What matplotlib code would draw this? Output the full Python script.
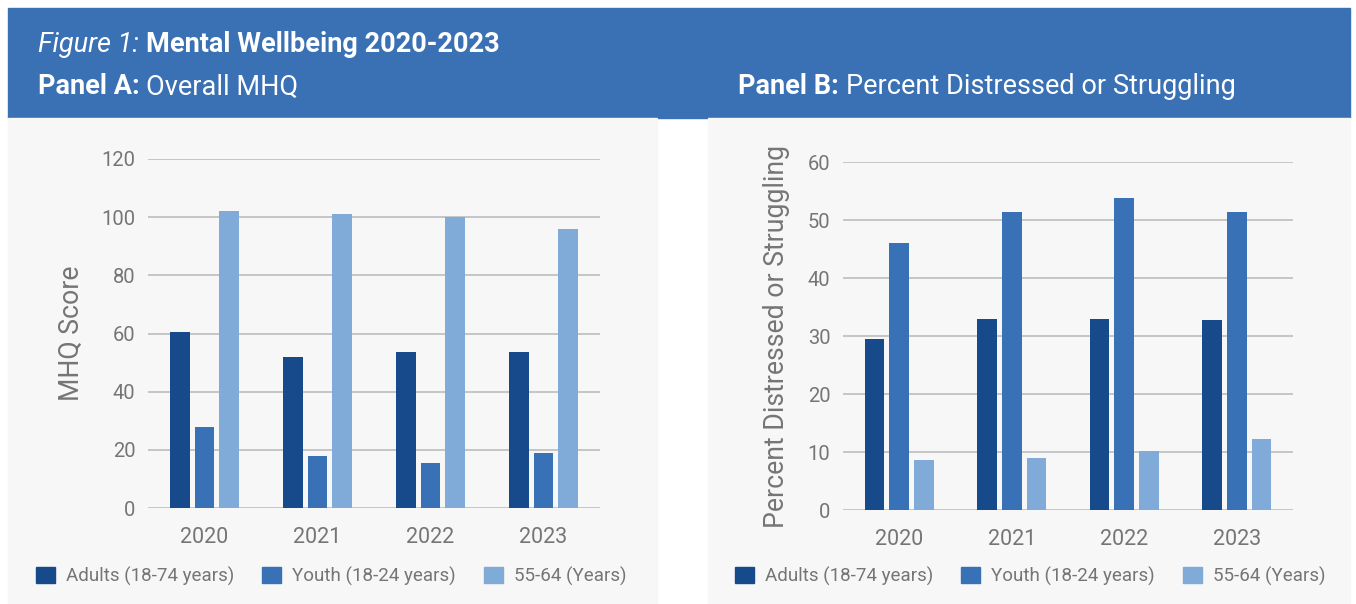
#!/usr/bin/env python3
"""Mental wellbeing 2020-2023: overall MHQ and percent distressed, by group."""

import matplotlib.pyplot as plt
import numpy as np
from matplotlib.patches import Rectangle, Patch

plt.rcParams['font.family'] = ['Roboto', 'DejaVu Sans']

years = ['2020', '2021', '2022', '2023']
groups = ['Adults (18-74 years)', 'Youth (18-24 years)', '55-64 (Years)']
colors = ['#174a8b', '#3871b5', '#80aad8']

mhq_adults = [60.5, 51.9, 53.6, 53.6]
mhq_youth = [27.7, 18.0, 15.6, 19.0]
mhq_older = [102.0, 101.0, 100.2, 95.8]

pct_adults = [29.4, 33.0, 33.0, 32.7]
pct_youth = [46.0, 51.4, 53.8, 51.4]
pct_older = [8.7, 9.0, 10.2, 12.3]

W, H = 1356, 604
TEXT_GREY = '#757575'
HEADER_BLUE = '#3a70b4'
PANEL_BG = '#f7f7f7'


def px_box(x0, y0, x1, y1):
    # pixel box (top-left origin) -> figure fraction [left, bottom, width, height]
    return [x0 / W, 1 - y1 / H, (x1 - x0) / W, (y1 - y0) / H]


def draw_panel(fig, box, series, ymax, step, ylabel, ylabel_x, legend_x):
    ax = fig.add_axes(px_box(*box))
    ax.set_facecolor(PANEL_BG)
    x = np.arange(len(years))
    width = 0.175
    offsets = [-0.22, 0.0, 0.22]
    for vals, off, col in zip(series, offsets, colors):
        ax.bar(x + off, vals, width, color=col, zorder=3)
    ax.set_xlim(-0.5, len(years) - 0.5)
    ax.set_ylim(0, ymax)
    ax.set_yticks(np.arange(0, ymax + 1, step))
    ax.set_xticks(x)
    ax.set_xticklabels(years)
    ax.grid(axis='y', color='#bdbdbd', linewidth=1.2, zorder=0)
    for s in ax.spines.values():
        s.set_visible(False)
    ax.tick_params(axis='both', length=0, colors=TEXT_GREY)
    ax.tick_params(axis='y', labelsize=14.5, pad=9)
    ax.tick_params(axis='x', labelsize=15.5, pad=14)
    ax.set_ylabel(ylabel, color=TEXT_GREY, fontsize=19.2)
    ax.yaxis.set_label_coords((ylabel_x - box[0]) / (box[2] - box[0]), 0.5)

    handles = [Patch(color=c) for c in colors]
    fig.legend(handles, groups, loc='center left',
               bbox_to_anchor=(legend_x / W, 1 - 576 / H), ncol=3,
               frameon=False, fontsize=13.5, labelcolor=TEXT_GREY,
               handlelength=1.0, handleheight=1.0, handletextpad=0.6,
               columnspacing=1.5, borderaxespad=0, borderpad=0)
    return ax


def header_text(fig, x, y, parts, size):
    # run of text pieces with their own styles, laid out left to right
    renderer = fig.canvas.get_renderer()
    for text, style, weight in parts:
        t = fig.text(x / W, 1 - y / H, text, color='white', fontsize=size,
                     fontstyle=style, fontweight=weight, va='center', ha='left')
        bb = t.get_window_extent(renderer=renderer)
        x += bb.width


def main():
    fig = plt.figure(figsize=(W / 100, H / 100), dpi=100)
    fig.patch.set_facecolor('white')

    fig.add_artist(Rectangle((8 / W, 1 - 118 / H), (1350 - 8) / W, 110 / H,
                             transform=fig.transFigure, color=HEADER_BLUE, zorder=0))
    for x0, x1 in [(8, 657), (708, 1350)]:
        fig.add_artist(Rectangle((x0 / W, 0), (x1 - x0) / W, 1 - 118 / H,
                                 transform=fig.transFigure, color=PANEL_BG, zorder=0))

    header_text(fig, 38, 45, [('Figure 1: ', 'italic', 'normal'),
                              ('Mental Wellbeing 2020-2023', 'normal', 'bold')], 19.5)
    header_text(fig, 38, 87, [('Panel A: ', 'normal', 'bold'),
                              ('Overall MHQ', 'normal', 'normal')], 19.5)
    header_text(fig, 738, 87, [('Panel B: ', 'normal', 'bold'),
                               ('Percent Distressed or Struggling', 'normal', 'normal')], 19.5)

    draw_panel(fig, (148, 159, 600, 508), [mhq_adults, mhq_youth, mhq_older],
               120, 20, 'MHQ Score', 85, 36)
    draw_panel(fig, (843, 162, 1293, 510), [pct_adults, pct_youth, pct_older],
               60, 10, 'Percent Distressed or Struggling', 790, 735)

    fig.savefig('out.png', dpi=100, facecolor=fig.get_facecolor())


if __name__ == '__main__':
    main()
